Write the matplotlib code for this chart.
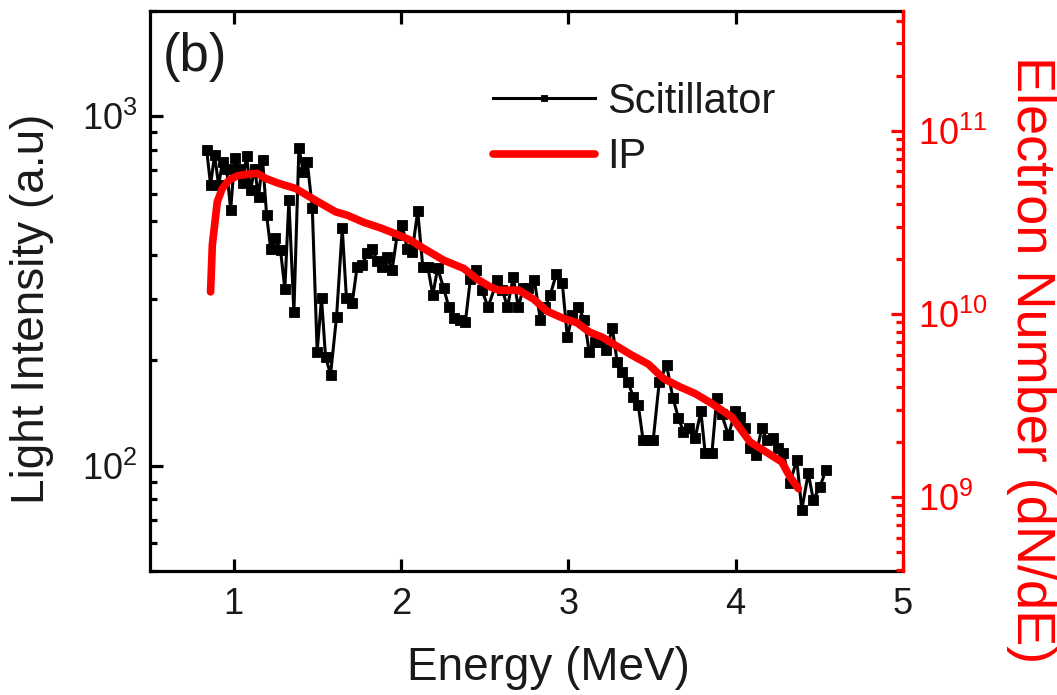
import matplotlib
matplotlib.use('Agg')
import matplotlib.pyplot as plt
from matplotlib.ticker import LogLocator, NullLocator, NullFormatter, FixedLocator

plt.rcParams['font.family'] = ['Liberation Sans', 'DejaVu Sans']
plt.rcParams['mathtext.fontset'] = 'custom'
plt.rcParams['mathtext.rm'] = 'Liberation Sans'
plt.rcParams['mathtext.it'] = 'Liberation Sans:italic'
plt.rcParams['mathtext.bf'] = 'Liberation Sans:bold'

# ---- data ----
sc_energy = [0.839, 0.862, 0.886, 0.910, 0.934, 0.958, 0.982, 1.006, 1.030, 1.053,
             1.077, 1.101, 1.125, 1.149, 1.173, 1.197, 1.221, 1.250, 1.280, 1.306,
             1.330, 1.360, 1.390, 1.416, 1.440, 1.470, 1.499, 1.525, 1.549, 1.579,
             1.615, 1.649, 1.674, 1.708, 1.738, 1.768, 1.798, 1.828, 1.858, 1.887,
             1.917, 1.947, 1.977, 2.007, 2.037, 2.067, 2.100, 2.130, 2.160, 2.190,
             2.219, 2.255, 2.285, 2.319, 2.351, 2.385, 2.415, 2.449, 2.484, 2.520,
             2.576, 2.606, 2.636, 2.671, 2.701, 2.731, 2.761, 2.797, 2.833, 2.862,
             2.892, 2.928, 2.964, 2.994, 3.024, 3.060, 3.096, 3.125, 3.161, 3.191,
             3.227, 3.263, 3.292, 3.322, 3.358, 3.388, 3.418, 3.447, 3.477, 3.507,
             3.543, 3.587, 3.625, 3.658, 3.688, 3.724, 3.758, 3.792, 3.818, 3.858,
             3.887, 3.917, 3.957, 3.997, 4.027, 4.056, 4.086, 4.122, 4.156, 4.186,
             4.225, 4.255, 4.285, 4.325, 4.365, 4.395, 4.434, 4.464, 4.504, 4.540]
sc_intensity = [800, 635, 774, 635, 740, 708, 538, 758, 708, 642,
                770, 614, 708, 588, 748, 521, 418, 447, 414, 320,
                575, 275, 812, 693, 740, 545, 212, 301, 205, 182,
                267, 477, 301, 291, 371, 375, 405, 418, 385, 371,
                396, 363, 457, 488, 418, 409, 535, 371, 371, 308,
                367, 322, 285, 265, 261, 258, 343, 363, 318, 284,
                340, 318, 284, 346, 284, 322, 322, 340, 261, 284,
                308, 353, 333, 233, 270, 284, 261, 211, 226, 226,
                214, 247, 198, 185, 173, 157, 149, 118, 118, 118,
                173, 194, 156, 137, 125, 128, 120, 143, 108.5, 108.5,
                156, 140, 122, 143, 138, 128, 112, 107, 128, 118,
                120, 112, 108.5, 89.1, 104, 74.7, 95.1, 79.8, 87.1, 97.2]

ip_energy = [0.862, 0.8725, 0.902, 0.932, 0.972, 1.022, 1.071, 1.141, 1.191, 1.270,
             1.370, 1.470, 1.609, 1.679, 1.778, 1.877, 1.977, 2.056, 2.136, 2.255,
             2.375, 2.455, 2.534, 2.584, 2.703, 2.793, 2.873, 2.972, 3.052, 3.125,
             3.203, 3.281, 3.380, 3.479, 3.569, 3.668, 3.758, 3.858, 3.977, 4.086,
             4.166, 4.276, 4.325, 4.375]
ip_number = [1.319e10, 2.374e10, 4.093e10, 4.843e10, 5.379e10, 5.678e10, 5.779e10, 5.852e10, 5.495e10, 5.16e10,
             4.843e10, 4.27e10, 3.61e10, 3.46e10, 3.16e10, 2.95e10, 2.716e10, 2.528e10, 2.277e10, 1.965e10,
             1.771e10, 1.548e10, 1.405e10, 1.348e10, 1.348e10, 1.203e10, 1.035e10, 9.44e9, 8.95e9, 7.97e9,
             7.46e9, 6.745e9, 5.95e9, 5.31e9, 4.436e9, 3.992e9, 3.673e9, 3.239e9, 2.736e9, 1.998e9,
             1.800e9, 1.554e9, 1.286e9, 1.112e9]

x_ticks = [1, 2, 3, 4, 5]
x_label = 'Energy (MeV)'
y_label = 'Light Intensity (a.u)'
y2_label = 'Electron Number (dN/dE)'
series_labels = ['Scitillator', 'IP']
panel_tag = '(b)'

# ---- figure ----
fig = plt.figure(figsize=(10.57, 6.95), dpi=100)
ax = fig.add_axes([0.1419, 0.1788, 0.7124, 0.8054])
ax2 = ax.twinx()

l1, = ax.plot(sc_energy, sc_intensity, color='black', lw=2.2, marker='s',
              markersize=7.5, markeredgewidth=0.6, markeredgecolor='black',
              label=series_labels[0], zorder=3)
l2, = ax2.plot(ip_energy, ip_number, color='#ff0000', lw=5.5, solid_capstyle='round',
               solid_joinstyle='round', label=series_labels[1], zorder=4)

ax.set_xlim(0.5, 5)
ax.set_yscale('log')
ax.set_ylim(50, 2000)
ax2.set_yscale('log')
ax2.set_ylim(3.96e8, 4.51e11)

ax.xaxis.set_major_locator(FixedLocator(x_ticks))
ax.xaxis.set_minor_locator(NullLocator())
ax.yaxis.set_major_locator(LogLocator(base=10, numticks=10))
ax.yaxis.set_minor_locator(LogLocator(base=10, subs=range(2, 10), numticks=20))
ax.yaxis.set_minor_formatter(NullFormatter())
ax2.yaxis.set_major_locator(LogLocator(base=10, numticks=10))
ax2.yaxis.set_minor_locator(LogLocator(base=10, subs=range(2, 10), numticks=20))
ax2.yaxis.set_minor_formatter(NullFormatter())

for s in ['left', 'top', 'bottom']:
    ax.spines[s].set_linewidth(2.3)
    ax.spines[s].set_color('black')
    ax2.spines[s].set_visible(False)
ax.spines['right'].set_visible(False)
ax2.spines['right'].set_linewidth(2.3)
ax2.spines['right'].set_color('#ff0000')

ax.tick_params(axis='both', which='both', direction='in', top=True, right=False,
               width=2.3, labelsize=26, color='black', labelcolor='#1a1a1a')
ax.tick_params(axis='both', which='major', length=9)
ax.tick_params(axis='both', which='minor', length=5)
ax.tick_params(axis='x', pad=12)
ax.tick_params(axis='y', pad=9)
ax2.tick_params(axis='y', which='both', direction='in', width=2.3, colors='#ff0000',
                labelsize=26, pad=11)
ax2.tick_params(axis='y', which='major', length=9)
ax2.tick_params(axis='y', which='minor', length=5)

ax.set_xlabel(x_label, fontsize=33, color='#1a1a1a', va='baseline')
ax.xaxis.set_label_coords(0.529, -0.195)
ax.set_ylabel(y_label, fontsize=33, color='#1a1a1a', va='center', ha='center')
ax.yaxis.set_label_coords(-0.157, 0.468)
ax2.set_ylabel(y2_label, fontsize=39, color='#ff0000', rotation=-90,
               va='center', ha='center')
ax2.yaxis.set_label_coords(1.17, 0.377)

ax.text(0.017, 0.963, panel_tag, transform=ax.transAxes, fontsize=38,
        va='top', ha='left', color='#1a1a1a')

leg = fig.legend(handles=[l1, l2], loc='upper left',
                 bbox_to_anchor=(493 / 1057, 1 - 82 / 695), frameon=False,
                 fontsize=30, handlelength=2.45, handletextpad=0.3,
                 labelspacing=0.37, borderpad=0, borderaxespad=0,
                 numpoints=1, markerscale=0.6)
for t in leg.get_texts():
    t.set_color('#1a1a1a')

fig.savefig('out.png', dpi=100)
